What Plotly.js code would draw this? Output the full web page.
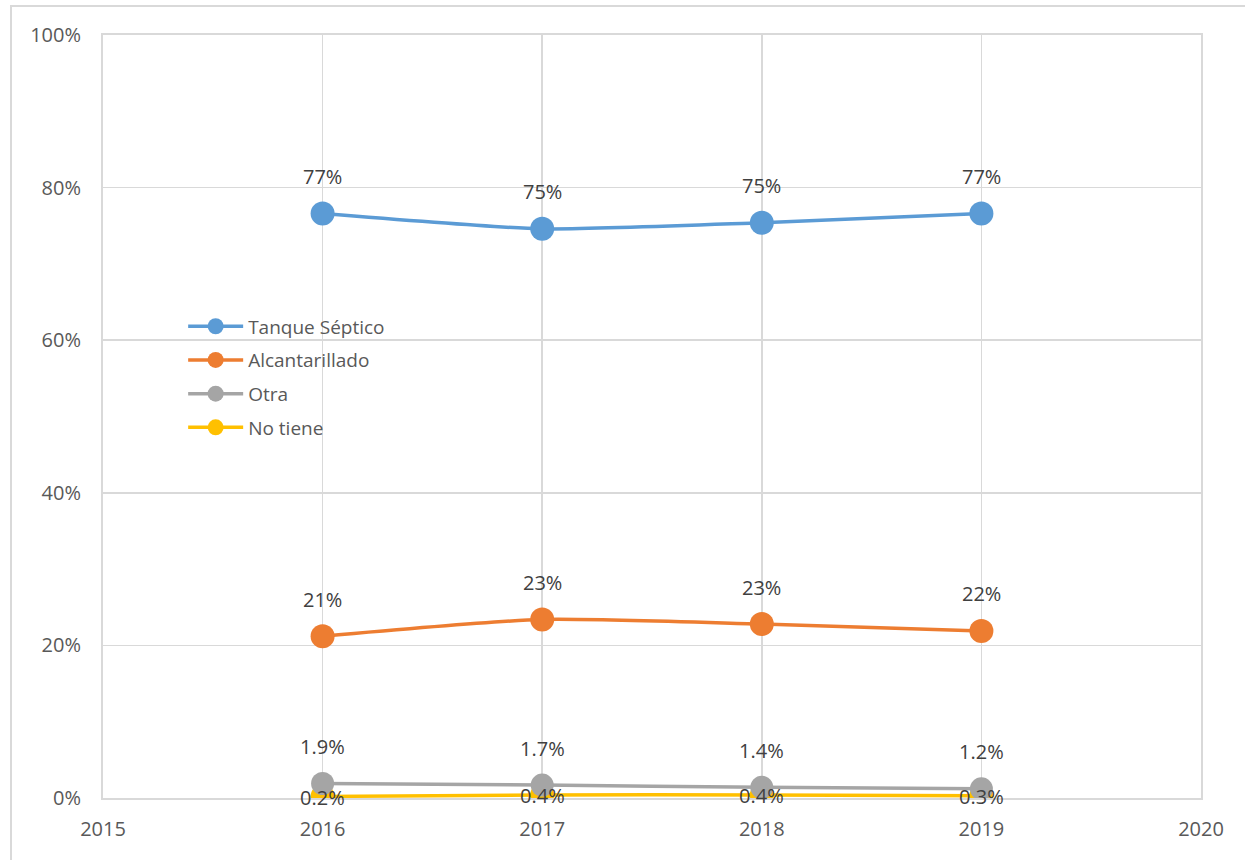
<!DOCTYPE html>
<html>
<head>
<meta charset="utf-8">
<script src="https://cdn.plot.ly/plotly-3.0.1.min.js"></script>
<style>
  html, body { margin: 0; padding: 0; background: #fff; }
  #frame { position: absolute; left: 10px; top: 5px; width: 1260px; height: 880px; border: 2px solid #D9D9D9; box-sizing: border-box; }
  #chart { position: absolute; left: 0; top: 0; width: 1245px; height: 860px; }
</style>
</head>
<body>
<div id="frame"></div>
<div id="chart"></div>
<script>
const years = [2016, 2017, 2018, 2019];
const seriesNames = ["Tanque Séptico", "Alcantarillado", "Otra", "No tiene"];
const tanqueSeptico = [76.6, 74.6, 75.4, 76.6];
const alcantarillado = [21.2, 23.4, 22.8, 21.9];
const otra = [1.9, 1.7, 1.4, 1.2];
const noTiene = [0.2, 0.4, 0.4, 0.3];
const labelDecimals = [0, 0, 1, 1];
const xTicks = [2015, 2016, 2017, 2018, 2019, 2020];
const yTicks = [0, 20, 40, 60, 80, 100];

const colors = ["#5B9BD5", "#ED7D31", "#A5A5A5", "#FFC000"];
const allSeries = [tanqueSeptico, alcantarillado, otra, noTiene];
const labelShift = [37, 37, 37, -1];
const drawOrder = [0, 1, 3, 2];
const FONT = "Open Sans, Noto Sans, sans-serif";

const traces = drawOrder.map(i => ({
  x: years, y: allSeries[i], name: seriesNames[i], type: "scatter", mode: "lines+markers",
  line: { color: colors[i], width: 3.5, shape: "spline", smoothing: 0.6 },
  marker: { color: colors[i], size: i === 2 ? 23 : 24 },
  cliponaxis: true, legendgroup: "g" + i, legendrank: i + 1, hoverinfo: "skip"
}));

const annotations = [];
allSeries.forEach((vals, i) => {
  vals.forEach((v, j) => {
    annotations.push({
      x: years[j], y: v, xref: "x", yref: "y",
      text: v.toFixed(labelDecimals[i]) + "%",
      showarrow: false, yshift: labelShift[i],
      font: { family: FONT, size: 20, color: "#404040" }
    });
  });
});

const layout = {
  width: 1245, height: 860,
  margin: { l: 103, r: 44, t: 35, b: 62 },
  paper_bgcolor: "rgba(0,0,0,0)", plot_bgcolor: "#fff",
  font: { family: FONT, size: 20, color: "#595959" },
  showlegend: true,
  legend: {
    x: 0.073, y: 0.643, xanchor: "left", yanchor: "top",
    bgcolor: "rgba(0,0,0,0)", tracegroupgap: 6, itemwidth: 55,
    font: { family: FONT, size: 19, color: "#595959" }
  },
  xaxis: {
    range: [2015, 2020], tickvals: xTicks, ticktext: xTicks.map(String),
    showgrid: true, gridcolor: "#D9D9D9", gridwidth: 1.5,
    showline: true, linecolor: "#D9D9D9", linewidth: 2, mirror: true,
    zeroline: false, ticks: "outside", ticklen: 12, tickcolor: "rgba(0,0,0,0)",
    fixedrange: true
  },
  yaxis: {
    range: [0, 100], tickvals: yTicks, ticktext: yTicks.map(v => v + "%"),
    showgrid: true, gridcolor: "#D9D9D9", gridwidth: 1.5,
    showline: true, linecolor: "#D9D9D9", linewidth: 2, mirror: true,
    zeroline: false, ticks: "outside", ticklen: 16, tickcolor: "rgba(0,0,0,0)",
    fixedrange: true
  },
  annotations: annotations
};

Plotly.newPlot("chart", traces, layout, { displayModeBar: false, staticPlot: true });
</script>
</body>
</html>
